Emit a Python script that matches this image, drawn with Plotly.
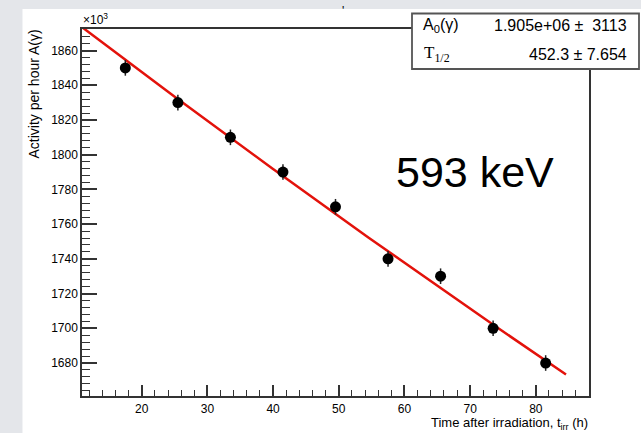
import numpy as np
import plotly.graph_objects as go

# Measured activity per hour (in units of 10^3) versus time after irradiation
time_h = [17.5, 25.5, 33.5, 41.5, 49.5, 57.5, 65.5, 73.5, 81.5]
activity_k = [1850, 1830, 1810, 1790, 1770, 1740, 1730, 1700, 1680]
activity_err_k = [4.5, 4.5, 4.5, 4.5, 4.5, 4.5, 4.5, 4.5, 4.5]

# Exponential-decay fit parameters
A0 = 1.905e6
A0_err = 3113
T_half = 452.3
T_half_err = 7.654
fit_t_range = [10.0, 84.6]

W, H = 641, 433
L, R, T, B = 82, 52, 29, 37
PW, PH = W - L - R, H - T - B


def px(x):
    return (x - L) / PW


def py(y):
    return (H - B - y) / PH


fit_t = np.linspace(fit_t_range[0], fit_t_range[1], 200)
fit_a = A0 / 1e3 * np.exp(-np.log(2) * fit_t / T_half)

FONT = "Liberation Sans, Arial, Helvetica, sans-serif"

fig = go.Figure()
fig.add_trace(go.Scatter(
    x=fit_t, y=fit_a, mode="lines",
    line=dict(color="#e3120b", width=2.5),
    showlegend=False, hoverinfo="skip",
))
fig.add_trace(go.Scatter(
    x=time_h, y=activity_k, mode="markers",
    marker=dict(color="black", size=11, symbol="circle"),
    error_y=dict(type="data", array=activity_err_k, color="#222222",
                 thickness=1.5, width=0),
    showlegend=False,
))

axis_common = dict(
    showgrid=False, zeroline=False, showline=True, mirror=True,
    linecolor="#333333", linewidth=1.5, ticks="inside",
    tickcolor="#333333", tickwidth=1.5,
    tickfont=dict(family=FONT, size=12, color="black"),
)

fig.update_xaxes(
    range=[10.9, 88.1], tick0=0, dtick=10, ticklen=11,
    minor=dict(dtick=2, tick0=0, ticks="inside", ticklen=6,
               tickcolor="#333333", tickwidth=1.2),
    ticklabelstandoff=1,
    **axis_common,
)
fig.update_yaxes(
    range=[1661, 1872.4], tick0=0, dtick=20, ticklen=15,
    minor=dict(dtick=4, tick0=0, ticks="inside", ticklen=8,
               tickcolor="#333333", tickwidth=1.2),
    **axis_common,
)

shapes = [
    # white canvas inside the grey border strips
    dict(type="rect", xref="paper", yref="paper", layer="below",
         x0=px(22.5), x1=px(W + 5), y0=py(H + 5), y1=py(9),
         fillcolor="white", line=dict(width=0)),
    # fit statistics box
    dict(type="rect", xref="paper", yref="paper", layer="above",
         x0=px(412), x1=px(639), y0=py(69), y1=py(13.5),
         fillcolor="white", line=dict(color="#555555", width=1.8)),
]

annotations = [
    dict(text="Activity per hour A(γ)", textangle=-90,
         x=px(33), y=py(28), xanchor="center", yanchor="top",
         font=dict(family=FONT, size=14, color="black")),
    dict(text="Time after irradiation, t<sub>irr</sub> (h)",
         x=px(590), y=py(423.5), xanchor="right", yanchor="middle",
         font=dict(family=FONT, size=13, color="black")),
    dict(text="×10<sup>3</sup>", x=px(81), y=py(29),
         xanchor="left", yanchor="bottom",
         font=dict(family=FONT, size=12, color="black")),
    dict(text="'", x=px(343), y=py(11), xanchor="center", yanchor="middle",
         font=dict(family=FONT, size=12, color="black")),
    dict(text="593 keV", x=px(474.5), y=py(172), xanchor="center",
         yanchor="middle", font=dict(family=FONT, size=43, color="black")),
    dict(text="A<sub>0</sub>(γ)", x=px(421), y=py(26), xanchor="left",
         yanchor="middle", font=dict(family=FONT, size=16, color="black")),
    dict(text=f"{A0:.3e}" + f" ±  {A0_err}",
         x=px(629), y=py(26), xanchor="right", yanchor="middle",
         font=dict(family=FONT, size=16, color="black")),
    dict(text="T<sub>1/2</sub>", x=px(422), y=py(54), xanchor="left",
         yanchor="middle",
         font=dict(family="Liberation Serif, Times New Roman, serif",
                   size=17, color="black")),
    dict(text=f"{T_half} ± {T_half_err}", x=px(629), y=py(54),
         xanchor="right", yanchor="middle",
         font=dict(family=FONT, size=16, color="black")),
]
for a in annotations:
    a.update(xref="paper", yref="paper", showarrow=False)

fig.update_layout(
    width=W, height=H,
    margin=dict(l=L, r=R, t=T, b=B),
    paper_bgcolor="#e4e6ea", plot_bgcolor="white",
    shapes=shapes, annotations=annotations,
    font=dict(family=FONT, color="black"),
)

fig.write_html("out.html")
